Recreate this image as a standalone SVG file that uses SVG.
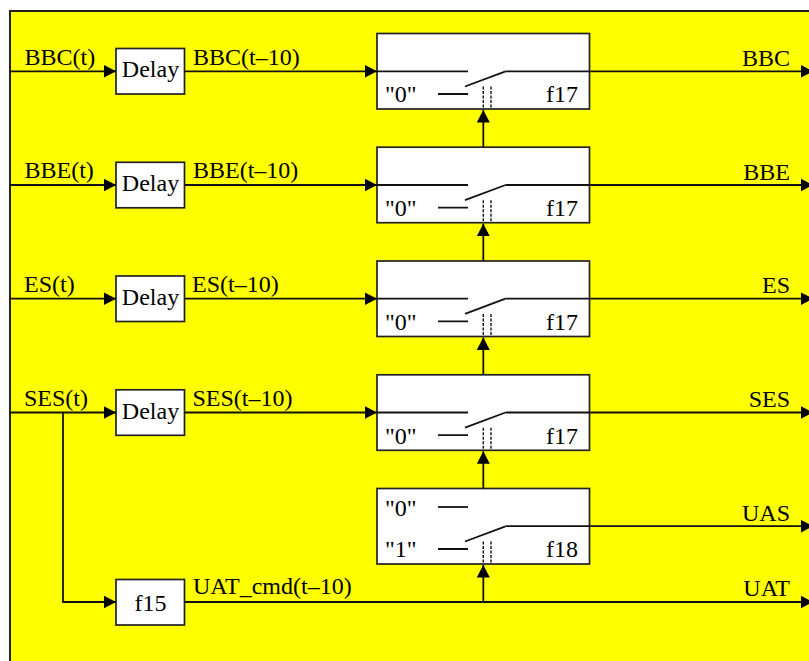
<svg xmlns="http://www.w3.org/2000/svg" width="809" height="661" viewBox="0 0 809 661">
<style>
text{font-family:"Liberation Serif","Times New Roman",serif;font-size:24px;fill:#000}
.e{text-anchor:end}.m{text-anchor:middle}
.box{fill:#fff;stroke:#222;stroke-width:1.7}
.c{fill:none;stroke:#111;stroke-width:1.8}
.d{fill:none;stroke:#111;stroke-width:1.4;stroke-dasharray:3 1.5}
</style>
<defs>
<marker id="a" markerUnits="userSpaceOnUse" markerWidth="13" markerHeight="13" refX="12.5" refY="6.5" orient="auto"><path d="M0 0L12.5 6.5L0 13Z" fill="#000"/></marker>
<g id="sw"><path class="c" d="M438 94H468M465 86.5L505.5 71.3"/><path class="d" d="M483.3 86.5V109M491 86.5V109"/></g>
</defs>
<rect x="10" y="11" width="805" height="660" fill="#ff0" stroke="#222" stroke-width="2"/>
<g id="n-sw1"><rect class="box" x="377" y="33.5" width="212.5" height="75.5"/><use href="#sw"/><path class="c" d="M377 71.3H468"/><text x="385" y="102.3">"0"</text><text class="e" x="578" y="102.3">f17</text></g>
<g id="n-sw2"><rect class="box" x="377" y="147.2" width="212.5" height="75.5"/><use href="#sw" y="113.7"/><path class="c" d="M377 185H468"/><text x="385" y="216">"0"</text><text class="e" x="578" y="216">f17</text></g>
<g id="n-sw3"><rect class="box" x="377" y="261" width="212.5" height="75.5"/><use href="#sw" y="227.4"/><path class="c" d="M377 298.7H468"/><text x="385" y="329.7">"0"</text><text class="e" x="578" y="329.7">f17</text></g>
<g id="n-sw4"><rect class="box" x="377" y="374.8" width="212.5" height="75.5"/><use href="#sw" y="341.2"/><path class="c" d="M377 412.5H468"/><text x="385" y="443.5">"0"</text><text class="e" x="578" y="443.5">f17</text></g>
<g id="n-sw5"><rect class="box" x="377" y="488.5" width="212.5" height="75.5"/><use href="#sw" y="455"/><path class="c" d="M438 507H468"/><text x="385" y="515.5">"0"</text><text x="385" y="557.2">"1"</text><text class="e" x="578" y="557.2">f18</text></g>
<g id="n-d1"><rect class="box" x="116" y="48.5" width="68.5" height="45.5"/><text class="m" x="150.5" y="77.4">Delay</text></g>
<g id="n-d2"><rect class="box" x="116" y="162.3" width="68.5" height="45.5"/><text class="m" x="150.5" y="191.1">Delay</text></g>
<g id="n-d3"><rect class="box" x="116" y="276" width="68.5" height="45.5"/><text class="m" x="150.5" y="304.9">Delay</text></g>
<g id="n-d4"><rect class="box" x="116" y="389.8" width="68.5" height="45.5"/><text class="m" x="150.5" y="418.7">Delay</text></g>
<g id="n-f15"><rect class="box" x="116" y="579.5" width="68.5" height="45.5"/><text class="m" x="150.5" y="610.5">f15</text></g>
<g id="connectors">
<path class="c" d="M10 71.3H116" marker-end="url(#a)"/><path class="c" d="M184.5 71.3H377" marker-end="url(#a)"/><path class="c" d="M505.5 71.3H813" marker-end="url(#a)"/>
<path class="c" d="M10 185H116" marker-end="url(#a)"/><path class="c" d="M184.5 185H377" marker-end="url(#a)"/><path class="c" d="M505.5 185H813" marker-end="url(#a)"/>
<path class="c" d="M10 298.7H116" marker-end="url(#a)"/><path class="c" d="M184.5 298.7H377" marker-end="url(#a)"/><path class="c" d="M505.5 298.7H813" marker-end="url(#a)"/>
<path class="c" d="M10 412.5H116" marker-end="url(#a)"/><path class="c" d="M184.5 412.5H377" marker-end="url(#a)"/><path class="c" d="M505.5 412.5H813" marker-end="url(#a)"/>
<path class="c" d="M505.5 526.2H813" marker-end="url(#a)"/>
<path class="c" d="M63 412.5V602H116" marker-end="url(#a)"/>
<path class="c" d="M184.5 602H813" marker-end="url(#a)"/>
<path class="c" d="M483.3 147.2V110" marker-end="url(#a)"/><path class="c" d="M483.3 261V223.7" marker-end="url(#a)"/><path class="c" d="M483.3 374.8V337.5" marker-end="url(#a)"/><path class="c" d="M483.3 488.5V451.3" marker-end="url(#a)"/><path class="c" d="M483.3 602V565" marker-end="url(#a)"/>
</g>
<g id="labels">
<text x="24.5" y="64.5">BBC(t)</text><text x="193" y="64.5">BBC(t–10)</text><text class="e" x="790" y="66">BBC</text>
<text x="24.5" y="178.3">BBE(t)</text><text x="193" y="178.3">BBE(t–10)</text><text class="e" x="790" y="179.7">BBE</text>
<text x="24" y="292">ES(t)</text><text x="192" y="292">ES(t–10)</text><text class="e" x="790" y="293.4">ES</text>
<text x="24" y="405.6">SES(t)</text><text x="192.5" y="405.6">SES(t–10)</text><text class="e" x="790" y="407">SES</text>
<text class="e" x="790" y="520.7">UAS</text>
<text x="193" y="593.5">UAT_cmd(t–10)</text><text class="e" x="790" y="596">UAT</text>
</g>
</svg>
